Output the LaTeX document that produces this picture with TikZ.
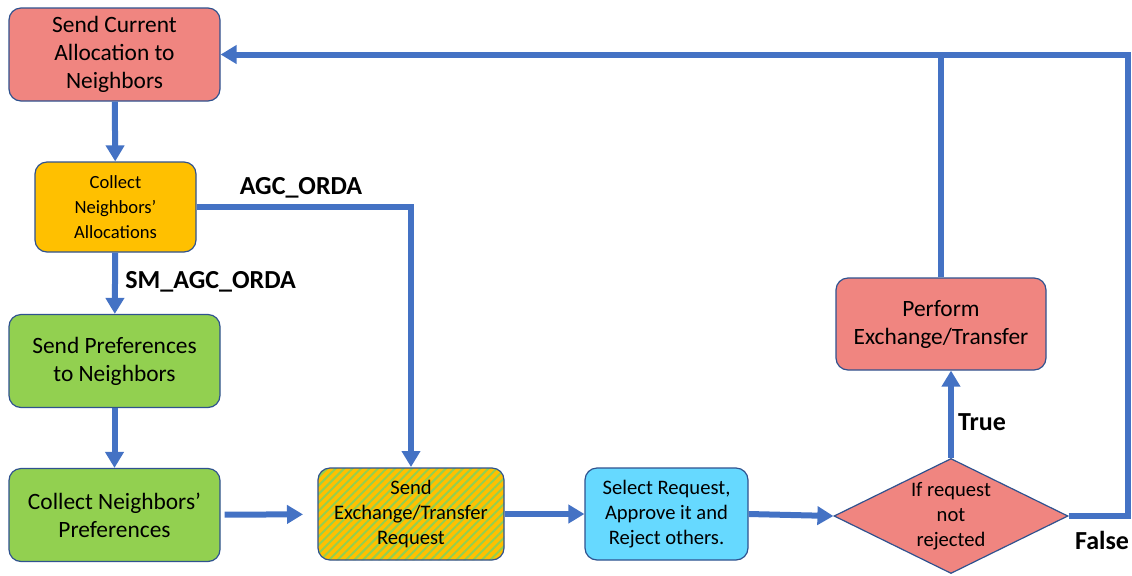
\documentclass[tikz,border=0pt]{standalone}
\usepackage{fontspec}
\setmainfont{Carlito}
\usetikzlibrary{arrows.meta,shapes.geometric,patterns.meta}
\definecolor{salmon}{HTML}{F08580}
\definecolor{amber}{HTML}{FFC000}
\definecolor{leaf}{HTML}{92D050}
\definecolor{sky}{HTML}{66D9FF}
\definecolor{flow}{HTML}{4472C4}
\definecolor{rim}{HTML}{2F528F}
\tikzset{
  box/.style={draw=rim,line width=0.6pt,rounded corners=6pt,align=center,inner sep=2pt,
    minimum width=105.5pt,minimum height=46.5pt,font=\fontsize{11.7}{14}\selectfont},
  smallbox/.style={box,font=\fontsize{10.3}{12.5}\selectfont},
  flowline/.style={draw=flow,line width=3pt},
  tag/.style={font=\bfseries\fontsize{13}{15}\selectfont},
}
\begin{document}
\begin{tikzpicture}[x=0.5pt,y=-0.5pt,>={Triangle[width=9pt,length=8pt]}]
\useasboundingbox (0,0) rectangle (1132,575);
% left column
\node[box,fill=salmon] (sendcur) at (114.5,54.5) {Send Current\\Allocation to\\Neighbors};
\node[smallbox,fill=amber,minimum width=80.5pt,minimum height=45pt,font=\fontsize{9.3}{12.5}\selectfont] (collalloc) at (115.5,207) {Collect\\Neighbors'\\Allocations};
\node[box,fill=leaf] (sendpref) at (114.5,361) {Send Preferences\\to Neighbors};
\node[box,fill=leaf] (collpref) at (114.5,515) {Collect Neighbors'\\Preferences};
% bottom row
\node[smallbox,minimum width=93pt,minimum height=46pt,preaction={fill=amber},
  pattern={Lines[angle=45,distance=3pt,line width=1pt]},pattern color=leaf] (sendreq) at (411,514) {Send\\Exchange/Transfer\\Request};
\node[smallbox,fill=sky,minimum width=81.5pt,minimum height=46pt] (select) at (666.5,514) {Select Request,\\Approve it and\\Reject others.};
\node[diamond,draw=rim,line width=0.6pt,fill=salmon,aspect=2,minimum width=117pt,minimum height=57.5pt,
  inner sep=0pt,align=center,font=\fontsize{10.3}{12.5}\selectfont] (check) at (951,516) {If request\\not\\rejected};
\node[box,fill=salmon,minimum width=105pt,minimum height=46pt] (perform) at (941,324) {Perform\\Exchange/Transfer};
\coordinate (corner) at (1128,54.5);
% connectors
\draw[flowline,->](sendcur)--(collalloc);
\draw[flowline,->](collalloc.east)-|(sendreq.north);
\draw[flowline,->](collalloc)--(sendpref);
\draw[flowline,->](sendpref)--(collpref);
\draw[flowline,->,shorten <=2pt,shorten >=7pt](collpref)--(sendreq);
\draw[flowline,->](sendreq)--(select);
\draw[flowline,->](select.east)--(check.west);
\draw[flowline,->](check.north)--(check.north|-perform.south);
\draw[flowline](perform.north)--(perform.north|-corner);
\draw[flowline,->](check.east)-|(corner)--(sendcur.east);
% labels
\node[tag] (agc) at (301,188) {AGC\_ORDA};
\node[tag,anchor=west,inner sep=0pt] (smagc) at (125,282) {SM\_AGC\_ORDA};
\node[tag] (yes) at (982,422) {True};
\node[tag] (no) at (1102,540) {False};
\end{tikzpicture}
\end{document}
